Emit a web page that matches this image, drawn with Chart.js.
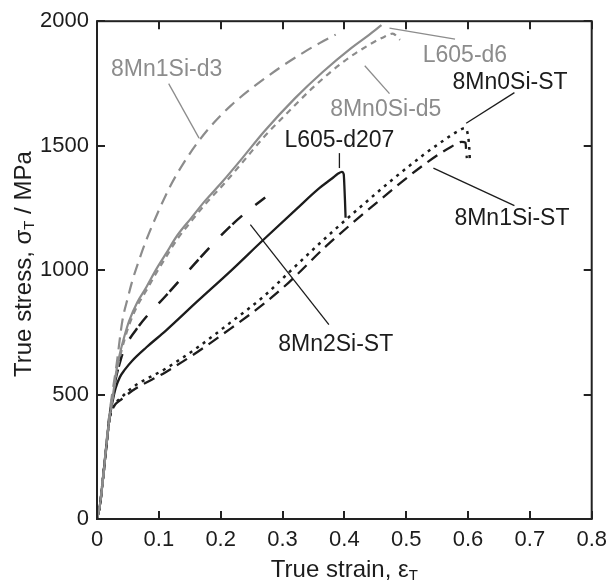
<!DOCTYPE html>
<html>
<head>
<meta charset="utf-8">
<script src="https://cdn.jsdelivr.net/npm/chart.js@4.4.1/dist/chart.umd.min.js"></script>
<style>
  html, body { margin: 0; padding: 0; background: #fff; }
  canvas { display: block; }
</style>
</head>
<body>
<canvas id="curves" width="615" height="584"></canvas>
<script>
// Tick values and labels
const strainTicks = [0, 0.1, 0.2, 0.3, 0.4, 0.5, 0.6, 0.7, 0.8];
const strainTickLabels = ["0", "0.1", "0.2", "0.3", "0.4", "0.5", "0.6", "0.7", "0.8"];
const stressTicks = [0, 500, 1000, 1500, 2000];
const stressTickLabels = ["0", "500", "1000", "1500", "2000"];

// L605-d6
const d6Strain = [0, 0.005, 0.01, 0.015, 0.02, 0.026, 0.031, 0.037, 0.045, 0.052, 0.065, 0.079, 0.095, 0.111, 0.13, 0.152, 0.174, 0.203, 0.235, 0.27, 0.32, 0.365, 0.41, 0.44, 0.46];
const d6Stress = [0, 60, 170, 290, 400, 500, 590, 664, 740, 796, 870, 928, 1000, 1064, 1140, 1208, 1276, 1356, 1450, 1556, 1690, 1796, 1890, 1945, 1984];

// 8Mn0Si-d5
const d5Strain = [0, 0.005, 0.01, 0.015, 0.02, 0.026, 0.031, 0.037, 0.045, 0.052, 0.065, 0.079, 0.095, 0.111, 0.13, 0.152, 0.174, 0.203, 0.235, 0.27, 0.3, 0.35, 0.4, 0.44, 0.465, 0.478, 0.49];
const d5Stress = [0, 60, 170, 290, 400, 495, 580, 650, 725, 780, 855, 915, 985, 1050, 1125, 1195, 1262, 1340, 1432, 1535, 1612, 1735, 1840, 1905, 1938, 1950, 1925];

// 8Mn1Si-d3
const d3Strain = [0, 0.005, 0.01, 0.015, 0.02, 0.025, 0.031, 0.041, 0.05, 0.057, 0.068, 0.079, 0.1, 0.119, 0.14, 0.165, 0.19, 0.216, 0.254, 0.295, 0.335, 0.36, 0.386];
const d3Stress = [0, 60, 170, 300, 420, 510, 608, 796, 890, 956, 1040, 1116, 1240, 1340, 1430, 1520, 1595, 1660, 1738, 1812, 1876, 1912, 1946];

// L605-d207
const d207Strain = [0, 0.005, 0.01, 0.015, 0.02, 0.025, 0.03, 0.037, 0.045, 0.057, 0.08, 0.111, 0.163, 0.216, 0.27, 0.322, 0.36, 0.38, 0.39, 0.396, 0.399, 0.4, 0.401, 0.402];
const d207Stress = [0, 60, 170, 290, 400, 470, 525, 570, 600, 636, 690, 756, 876, 996, 1124, 1244, 1330, 1368, 1388, 1395, 1385, 1340, 1280, 1210];

// 8Mn2Si-ST
const mn2Strain = [0, 0.005, 0.01, 0.015, 0.02, 0.025, 0.03, 0.036, 0.043, 0.068, 0.111, 0.143, 0.187, 0.219, 0.245, 0.272];
const mn2Stress = [0, 60, 170, 290, 410, 490, 560, 620, 676, 776, 896, 984, 1104, 1184, 1240, 1292];

// 8Mn0Si-ST
const mn0Strain = [0, 0.005, 0.01, 0.015, 0.02, 0.025, 0.03, 0.04, 0.057, 0.111, 0.163, 0.216, 0.27, 0.31, 0.37, 0.422, 0.476, 0.529, 0.56, 0.585, 0.595, 0.6, 0.602, 0.603];
const mn0Stress = [0, 60, 170, 290, 400, 440, 465, 490, 528, 604, 690, 790, 895, 990, 1130, 1245, 1360, 1465, 1520, 1560, 1570, 1540, 1490, 1436];

// 8Mn1Si-ST
const mn1Strain = [0, 0.005, 0.01, 0.015, 0.02, 0.025, 0.03, 0.04, 0.057, 0.111, 0.163, 0.216, 0.27, 0.31, 0.37, 0.449, 0.529, 0.573, 0.59, 0.596, 0.597, 0.598];
const mn1Stress = [0, 60, 170, 290, 400, 440, 462, 482, 515, 590, 672, 765, 865, 950, 1095, 1264, 1424, 1496, 1515, 1512, 1480, 1450];

const GRAY = "#8c8c8c";
const INK = "#1c1c1c";
const FONT = '"Liberation Sans", Arial, Helvetica, sans-serif';

function pairs(xs, ys) {
  return xs.map((x, i) => ({ x: x, y: ys[i] }));
}

function curve(label, xs, ys, color, dash, width) {
  return {
    label: label,
    data: pairs(xs, ys),
    borderColor: color,
    borderWidth: width,
    borderDash: dash,
    showLine: true,
    pointRadius: 0,
    fill: false,
    cubicInterpolationMode: "monotone",
  };
}

// Labels with leader lines, in data units
const notes = [
  { text: "8Mn1Si-d3", color: GRAY, at: [0.1127, 1805], from: [0.1159, 1749], to: [0.165, 1530] },
  { text: "L605-d6", color: GRAY, at: [0.595, 1861], from: [0.473, 1972], to: [0.579, 1928] },
  { text: "8Mn0Si-d5", color: GRAY, at: [0.467, 1645], from: [0.433, 1821], to: [0.473, 1709] },
  { text: "8Mn0Si-ST", color: INK, at: [0.668, 1753], from: [0.675, 1713], to: [0.597, 1590] },
  { text: "L605-d207", color: INK, at: [0.392, 1522], from: [0.392, 1470], to: [0.392, 1410] },
  { text: "8Mn1Si-ST", color: INK, at: [0.671, 1207], from: [0.544, 1410], to: [0.675, 1259] },
  { text: "8Mn2Si-ST", color: INK, at: [0.386, 701], from: [0.248, 1183], to: [0.375, 781] },
];

const framePlugin = {
  id: "frame",
  beforeDraw(chart) {
    const ctx = chart.ctx;
    ctx.save();
    ctx.fillStyle = "#fff";
    ctx.fillRect(0, 0, chart.width, chart.height);
    ctx.restore();
  },
  afterDraw(chart) {
    const ctx = chart.ctx;
    const a = chart.chartArea;
    const xs = chart.scales.x;
    const ys = chart.scales.y;
    const tl = 8;

    ctx.save();
    ctx.strokeStyle = "#222";
    ctx.lineWidth = 2;
    ctx.strokeRect(a.left, a.top, a.right - a.left, a.bottom - a.top);

    // inward ticks on all four sides
    ctx.beginPath();
    strainTicks.forEach((v) => {
      const px = Math.round(xs.getPixelForValue(v));
      ctx.moveTo(px, a.bottom);
      ctx.lineTo(px, a.bottom - tl);
      ctx.moveTo(px, a.top);
      ctx.lineTo(px, a.top + tl);
    });
    stressTicks.forEach((v) => {
      const py = Math.round(ys.getPixelForValue(v));
      ctx.moveTo(a.left, py);
      ctx.lineTo(a.left + tl, py);
      ctx.moveTo(a.right, py);
      ctx.lineTo(a.right - tl, py);
    });
    ctx.stroke();

    // labels and leader lines
    ctx.lineWidth = 1.3;
    ctx.font = "23px " + FONT;
    ctx.textAlign = "center";
    ctx.textBaseline = "middle";
    notes.forEach((n) => {
      ctx.strokeStyle = n.color;
      ctx.fillStyle = n.color;
      ctx.beginPath();
      ctx.moveTo(xs.getPixelForValue(n.from[0]), ys.getPixelForValue(n.from[1]));
      ctx.lineTo(xs.getPixelForValue(n.to[0]), ys.getPixelForValue(n.to[1]));
      ctx.stroke();
      ctx.fillText(n.text, xs.getPixelForValue(n.at[0]), ys.getPixelForValue(n.at[1]));
    });

    // axis titles with subscript T
    ctx.fillStyle = INK;
    ctx.textAlign = "left";
    ctx.textBaseline = "alphabetic";
    const big = "24px " + FONT;
    const small = "15px " + FONT;

    function titleParts(parts, x0, y0) {
      let x = x0;
      parts.forEach((p) => {
        ctx.font = p.sub ? small : big;
        ctx.fillText(p.t, x, y0 + (p.sub ? 3 : 0));
        x += ctx.measureText(p.t).width;
      });
    }
    function widthOf(parts) {
      let w = 0;
      parts.forEach((p) => {
        ctx.font = p.sub ? small : big;
        w += ctx.measureText(p.t).width;
      });
      return w;
    }

    const xTitle = [{ t: "True strain, ε" }, { t: "T", sub: true }];
    const xw = widthOf(xTitle);
    titleParts(xTitle, (a.left + a.right) / 2 - xw / 2, 577);

    const yTitle = [{ t: "True stress, σ" }, { t: "T", sub: true }, { t: " / MPa" }];
    const yw = widthOf(yTitle);
    ctx.translate(31, (a.top + a.bottom) / 2 - 6);
    ctx.rotate(-Math.PI / 2);
    titleParts(yTitle, -yw / 2, 0);
    ctx.restore();
  },
};

const tickFont = { family: FONT, size: 22 };

new Chart(document.getElementById("curves").getContext("2d"), {
  type: "scatter",
  data: {
    datasets: [
      curve("L605-d6", d6Strain, d6Stress, GRAY, [], 2.2),
      curve("8Mn0Si-d5", d5Strain, d5Stress, GRAY, [6, 5], 2.2),
      curve("8Mn1Si-d3", d3Strain, d3Stress, GRAY, [12, 7], 2.2),
      curve("L605-d207", d207Strain, d207Stress, INK, [], 2.3),
      curve("8Mn2Si-ST", mn2Strain, mn2Stress, INK, [13, 3, 13, 17], 2.5),
      curve("8Mn0Si-ST", mn0Strain, mn0Stress, INK, [3, 5], 2.5),
      curve("8Mn1Si-ST", mn1Strain, mn1Stress, INK, [12, 7], 2.3),
    ],
  },
  options: {
    responsive: false,
    animation: false,
    devicePixelRatio: 1,
    layout: { padding: { top: 17, right: 14, left: 0, bottom: 0 } },
    plugins: { legend: { display: false }, tooltip: { enabled: false } },
    scales: {
      x: {
        type: "linear",
        min: 0,
        max: 0.8,
        afterBuildTicks: (s) => { s.ticks = strainTicks.map((v) => ({ value: v })); },
        afterFit: (s) => { s.height = 65; },
        ticks: {
          color: INK,
          font: tickFont,
          padding: 8,
          maxRotation: 0,
          autoSkip: false,
          callback: (v, i) => strainTickLabels[i],
        },
        grid: { display: false, drawTicks: false },
        border: { display: false },
      },
      y: {
        type: "linear",
        min: 0,
        max: 2000,
        afterBuildTicks: (s) => { s.ticks = stressTicks.map((v) => ({ value: v })); },
        afterFit: (s) => { s.width = 97; },
        ticks: {
          color: INK,
          font: tickFont,
          padding: 8,
          autoSkip: false,
          callback: (v, i) => stressTickLabels[i],
        },
        grid: { display: false, drawTicks: false },
        border: { display: false },
      },
    },
  },
  plugins: [framePlugin],
});
</script>
</body>
</html>
